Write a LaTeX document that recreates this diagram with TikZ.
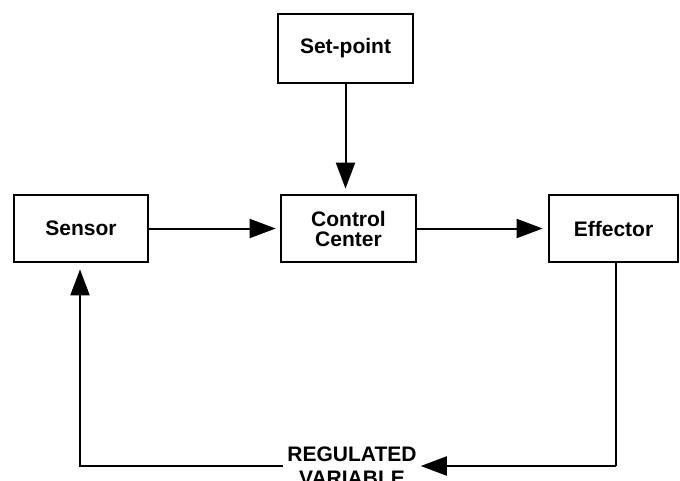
\documentclass[tikz,border=0pt]{standalone}
\usepackage{fontspec}
\setmainfont{Liberation Sans}
\usetikzlibrary{arrows.meta}
\tikzset{
	block/.style={
			draw, line width=2.7pt, minimum width=#1, minimum height=67pt,
			inner sep=0pt, align=center, font=\bfseries\fontsize{21}{20}\selectfont
		},
	flow/.style={-{Triangle[length=26pt,width=19pt]}, line width=2pt}
}
\begin{document}
\begin{tikzpicture}[x=1pt, y=-1pt]
        \useasboundingbox (0,0) rectangle (680,480);
        \node [block=135pt, minimum height=69pt] (setpt) at (345.5, 48.5) {Set-point};
        \node [block=134pt] (sensor) at (81, 228.5) {Sensor};
        \node [block=135pt] (control) at (348.5, 228.5) {Control\\Center};
        \node [block=129pt] (effector) at (613.5, 228.5) {Effector};
        \node [inner sep=4pt, align=center, font=\bfseries\fontsize{21}{24}\selectfont] (regvar) at (352, 466) {REGULATED\\VARIABLE};
        \coordinate (effout) at (616, 466);
        \coordinate (sensin) at (80, 466);
        \draw [flow, shorten >=5pt] (setpt.south) -- (setpt.south |- control.north);
        \draw [flow, shorten >=4pt] (sensor) -- (control);
        \draw [flow, shorten >=5pt] (control) -- (effector);
        \draw [line width=2pt] (effout |- effector.south) -- (effout);
        \draw [flow] (effout) -- (regvar.east);
        \draw [flow, shorten >=6pt] (regvar.west) -- (sensin) -- (sensin |- sensor.south);
    \end{tikzpicture}
\end{document}
